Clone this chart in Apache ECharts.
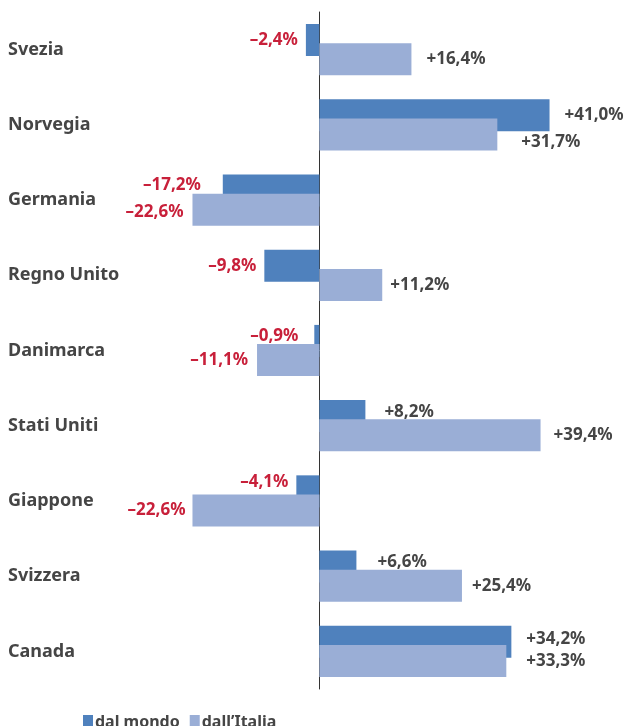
<!DOCTYPE html>
<html>
<head>
<meta charset="utf-8">
<script src="https://cdn.jsdelivr.net/npm/echarts@6/dist/echarts.min.js"></script>
<style>
  html, body { margin: 0; padding: 0; background: #fff; }
  #chart { width: 628px; height: 726px; }
</style>
</head>
<body>
<div id="chart"></div>
<script>
const countries = ['Svezia', 'Norvegia', 'Germania', 'Regno Unito', 'Danimarca', 'Stati Uniti', 'Giappone', 'Svizzera', 'Canada'];
const dalMondo = [-2.4, 41.0, -17.2, -9.8, -0.9, 8.2, -4.1, 6.6, 34.2];
const dallItalia = [16.4, 31.7, -22.6, 11.2, -11.1, 39.4, -22.6, 25.4, 33.3];
const seriesNames = ['dal mondo', 'dall\u2019Italia'];

// label placement as in the original: [gap from bar end, vertical shift]
const mondoLabelPos = [[8, 0], [15, 0], [22, -5], [8, 0], [16, -5], [19, -4], [8, -9], [21, -4], [15, -3]];
const italiaLabelPos = [[15, 0], [24, 8], [9, 3], [8, 0], [9, 0], [13, 0], [7, 0], [10, 0], [20, 0]];

const FONT = '"Noto Sans", sans-serif';
const RED = '#c8203a';
const GREY = '#454545';

function fmt(v) {
  const s = Math.abs(v).toFixed(1).replace('.', ',');
  return (v < 0 ? '\u2013' : '+') + s + '%';
}

// labels sit on the outer side of the bar, red when negative
function points(values, placement) {
  return values.map(function (v, i) {
    return {
      value: v,
      label: {
        position: v < 0 ? 'left' : 'right',
        distance: placement[i][0],
        offset: [0, placement[i][1]],
        color: v < 0 ? RED : GREY
      }
    };
  });
}

const chart = echarts.init(document.getElementById('chart'));

const valueLabel = {
  show: true,
  fontFamily: FONT,
  fontWeight: 'bold',
  fontSize: 17,
  formatter: function (p) { return fmt(p.value); }
};

chart.setOption({
  animation: false,
  color: ['#4f81bd', '#9aaed6'],
  grid: { left: 179, right: 56, top: 12, bottom: 37, containLabel: false, outerBoundsMode: 'none' },
  legend: {
    left: 78,
    top: 709,
    icon: 'rect',
    itemWidth: 10,
    itemHeight: 14,
    itemGap: 10,
    textStyle: { fontFamily: FONT, fontWeight: 'bold', fontSize: 16, color: GREY, padding: [0, 0, 0, -3] },
    data: seriesNames
  },
  xAxis: {
    type: 'value',
    min: -25,
    max: 45,
    show: false
  },
  yAxis: [
    {
      // category names on the far left
      type: 'category',
      inverse: true,
      data: countries,
      axisLine: { show: false, onZero: false },
      axisTick: { show: false },
      axisLabel: {
        align: 'left',
        margin: 171,
        padding: [0, 0, 6, 0],
        fontFamily: FONT,
        fontWeight: 'bold',
        fontSize: 18,
        color: GREY
      }
    },
    {
      // the zero line
      type: 'category',
      inverse: true,
      position: 'left',
      data: countries,
      axisLine: { show: true, onZero: true, lineStyle: { color: '#333', width: 1 } },
      axisTick: { show: false },
      axisLabel: { show: false }
    }
  ],
  series: [
    {
      name: seriesNames[0],
      type: 'bar',
      barWidth: 32,
      barGap: '-40%',
      data: points(dalMondo, mondoLabelPos),
      label: valueLabel
    },
    {
      name: seriesNames[1],
      type: 'bar',
      barWidth: 32,
      barGap: '-40%',
      data: points(dallItalia, italiaLabelPos),
      label: valueLabel
    }
  ]
});
</script>
</body>
</html>
